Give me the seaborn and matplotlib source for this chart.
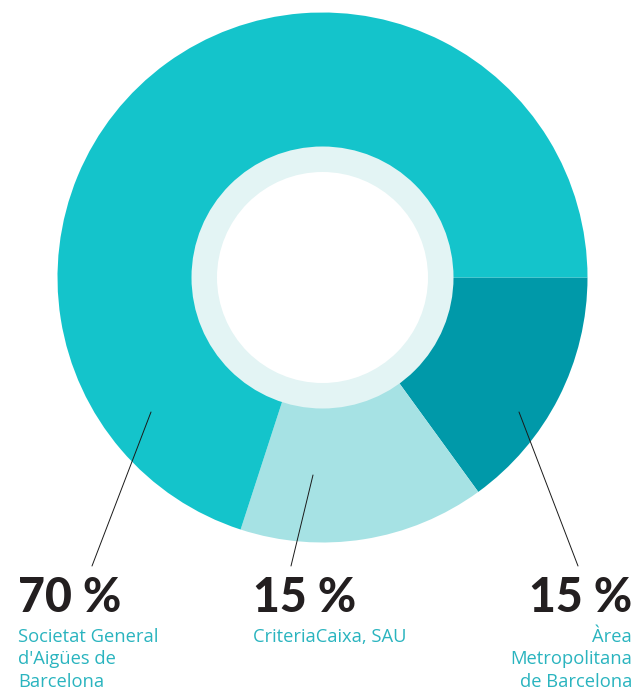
import matplotlib
matplotlib.use("Agg")
import matplotlib.pyplot as plt
import seaborn as sns
from matplotlib.patches import Circle

sns.set_theme(style="white")
plt.rcParams['font.family'] = ['Lato', 'DejaVu Sans']

# Data (clockwise from 3 o'clock)
names = ["Àrea\nMetropolitana\nde Barcelona", "CriteriaCaixa, SAU", "Societat General\nd'Aigües de\nBarcelona"]
shares = [15, 15, 70]
pct_labels = ["15 %", "15 %", "70 %"]
colors = ["#0099A9", "#A6E2E4", "#14C4CB"]
ring_color = "#E3F4F4"
text_color = "#2AB4BF"

W, H = 642, 691
fig = plt.figure(figsize=(W / 100, H / 100), dpi=100)
ax = fig.add_axes([0, 0, 1, 1])
ax.set_xlim(0, W)
ax.set_ylim(0, H)
ax.axis("off")

def Y(py):
    return H - py

cx, cy = 322.5, Y(277.5)
ax.pie(shares, colors=colors, radius=265, center=(cx, cy), startangle=0,
       counterclock=False, wedgeprops=dict(linewidth=0), frame=False)
ax.set_xlim(0, W)
ax.set_ylim(0, H)
ax.set_aspect("equal")
ax.add_patch(Circle((cx, cy), 131, color=ring_color, lw=0, zorder=3))
ax.add_patch(Circle((cx, cy), 105.5, color="white", lw=0, zorder=4))

# leader lines: (start inside wedge) -> (end near label)
leaders = [((519, 412), (578, 566)), ((313, 475), (291, 566)), ((151, 412), (92, 566))]
for (x0, y0), (x1, y1) in leaders:
    ax.plot([x0, x1], [Y(y0), Y(y1)], color="#1a1a1a", lw=0.7, zorder=5)

# label layout
layout = [(632, "right"), (253, "left"), (18, "left")]
for (x, ha), pct, name in zip(layout, pct_labels, names):
    ax.text(x, Y(612), pct, ha=ha, va="baseline", fontsize=33.5, fontweight="black",
            color="#231F20", zorder=6)
    for i, line in enumerate(name.split("\n")):
        ax.text(x, Y(642 + 22.5 * i), line, ha=ha, va="baseline", fontsize=13.2,
                family=["Open Sans", "DejaVu Sans"], fontweight="normal",
                color=text_color, zorder=6)

fig.savefig("out.png", dpi=100)
